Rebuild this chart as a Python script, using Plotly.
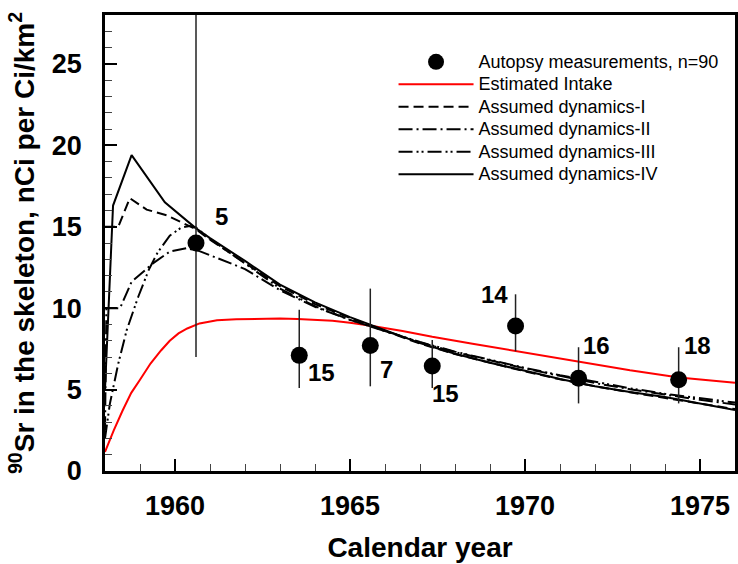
import plotly.graph_objects as go

# ---------------- data ----------------
# Autopsy measurements
meas_year = [1960.6, 1963.55, 1965.58, 1967.35, 1969.73, 1971.53, 1974.39]
meas_val = [14.0, 7.1, 7.7, 6.45, 8.9, 5.7, 5.6]
meas_hi = [29.0, 9.9, 11.2, 8.05, 10.85, 7.6, 7.6]
meas_lo = [7.0, 5.1, 5.2, 5.1, 7.35, 4.15, 4.15]
meas_n = [5, 15, 7, 15, 14, 16, 18]

# Estimated intake (red)
intake_year = [1958.0, 1958.25, 1958.5, 1958.75, 1959.0, 1959.3, 1959.6, 1959.85,
               1960.1, 1960.35, 1960.7, 1961.2, 1961.75, 1962.5, 1963.0, 1963.5,
               1964.0, 1964.5, 1965.0, 1965.6, 1966.5, 1967.35, 1968.5, 1969.75,
               1971.5, 1973.0, 1974.4, 1976.0]
intake_val = [1.17, 2.5, 3.7, 4.8, 5.6, 6.6, 7.4, 8.0,
              8.45, 8.75, 9.06, 9.25, 9.32, 9.36, 9.36, 9.34,
              9.3, 9.22, 9.1, 8.92, 8.6, 8.24, 7.82, 7.36,
              6.7, 6.18, 5.74, 5.42]

# Assumed dynamics-I (dashed)
dyn1_year = [1958.0, 1958.38, 1958.71, 1959.19, 1959.76, 1960.23, 1960.6, 1961, 1962, 1963,
             1964, 1965, 1966, 1967, 1968, 1969, 1970, 1971, 1972, 1973, 1974, 1975, 1976]
dyn1_val = [15.0, 15.0, 16.75, 16.05, 15.7, 15.2, 14.85, 14.2, 12.8, 11.35,
            10.25, 9.4, 8.6, 7.82, 7.18, 6.63, 6.12, 5.63, 5.2, 4.83, 4.5, 4.15, 3.8]

# Assumed dynamics-II (dash-dot)
dyn2_year = [1958.0, 1958.04, 1958.43, 1958.76, 1959.37, 1959.85, 1960.33, 1960.7, 1961, 1962,
             1963, 1964, 1965, 1966, 1967, 1968, 1969, 1970, 1971, 1972, 1973, 1974, 1975, 1976]
dyn2_val = [2.5, 10.0, 10.0, 11.62, 12.75, 13.47, 13.68, 13.5, 13.25, 12.4,
            11.1, 10.08, 9.28, 8.58, 7.9, 7.3, 6.78, 6.3, 5.84, 5.4, 5.02, 4.68, 4.37, 4.08]

# Assumed dynamics-III (dash-dot-dot)
dyn3_year = [1958.0, 1958.14, 1958.38, 1958.62, 1958.95, 1959.25, 1959.5, 1959.85, 1960.18,
             1960.42, 1960.6, 1961, 1962, 1963, 1964, 1965, 1966, 1967, 1968, 1969, 1970,
             1971, 1972, 1973, 1974, 1975, 1976]
dyn3_val = [2.0, 4.14, 6.6, 8.65, 10.7, 12.35, 13.4, 14.45, 14.95,
            15.05, 14.95, 14.25, 12.75, 11.2, 10.12, 9.28, 8.6, 7.92, 7.33, 6.82, 6.33,
            5.88, 5.46, 5.08, 4.74, 4.45, 4.2]

# Assumed dynamics-IV (solid)
dyn4_year = [1958.0, 1958.14, 1958.23, 1958.76, 1959.71, 1960.6, 1961, 1962, 1963, 1964,
             1965, 1966, 1967, 1968, 1969, 1970, 1971, 1972, 1973, 1974, 1975, 1976]
dyn4_val = [5.0, 12.3, 16.3, 19.4, 16.5, 14.9, 14.3, 12.9, 11.45, 10.35,
            9.45, 8.65, 7.85, 7.2, 6.65, 6.15, 5.65, 5.2, 4.85, 4.55, 4.15, 3.75]

x_ticks = [1960, 1965, 1970, 1975]
y_ticks = [0, 5, 10, 15, 20, 25]

# label offsets (pixels) for the n labels
lab_dx = [25, 22, 16, 13, -21, 18, 19]
lab_dy = [27, -17, -24, -28, 32, 33, 34]

FONT = "Liberation Sans"


def leg(name):
    return f'<span style="font-size:18px">{name}</span>'


fig = go.Figure()

fig.add_trace(go.Scatter(x=intake_year, y=intake_val, mode="lines", name=leg("Estimated Intake"),
                         line=dict(color="#ff0000", width=2), legendrank=2))
fig.add_trace(go.Scatter(x=dyn1_year, y=dyn1_val, mode="lines", name=leg("Assumed dynamics-I"),
                         line=dict(color="black", width=2, dash="10px,5px"), legendrank=3))
fig.add_trace(go.Scatter(x=dyn2_year, y=dyn2_val, mode="lines", name=leg("Assumed dynamics-II"),
                         line=dict(color="black", width=2, dash="14px,4px,2px,4px"), legendrank=4))
fig.add_trace(go.Scatter(x=dyn3_year, y=dyn3_val, mode="lines", name=leg("Assumed dynamics-III"),
                         line=dict(color="black", width=2, dash="14px,4px,2px,3px,2px,4px"), legendrank=5))
fig.add_trace(go.Scatter(x=dyn4_year, y=dyn4_val, mode="lines", name=leg("Assumed dynamics-IV"),
                         line=dict(color="black", width=2), legendrank=6))

err_plus = [h - v for h, v in zip(meas_hi, meas_val)]
err_minus = [v - l for v, l in zip(meas_val, meas_lo)]
fig.add_trace(go.Scatter(x=meas_year, y=meas_val, mode="markers",
                         name=leg("Autopsy measurements, n=90"),
                         marker=dict(color="black", size=17, symbol="circle"),
                         error_y=dict(type="data", symmetric=False, array=err_plus,
                                      arrayminus=err_minus, color="#222222",
                                      thickness=1.5, width=0),
                         legendrank=1))

for xv, yv, n, dx, dy in zip(meas_year, meas_val, meas_n, lab_dx, lab_dy):
    fig.add_annotation(x=xv, y=yv, text=f"<b>{n}</b>", showarrow=False,
                       xshift=dx, yshift=dy,
                       font=dict(family=FONT, size=24, color="black"))

fig.update_layout(
    width=738, height=564,
    margin=dict(l=105, r=0, t=15, b=93),
    paper_bgcolor="white", plot_bgcolor="white",
    font=dict(family=FONT, color="black"),
    showlegend=True,
    legend=dict(x=0.458, y=0.933, xanchor="left", yanchor="top",
                font=dict(family=FONT, size=15, color="black"),
                itemwidth=75, bgcolor="rgba(0,0,0,0)", tracegroupgap=0,
                traceorder="normal", itemsizing="trace"),
    xaxis=dict(range=[1958, 1976], tickvals=x_ticks, ticktext=[str(v) for v in x_ticks],
               ticks="inside", ticklen=12, tickwidth=2, tickcolor="black",
               showline=True, linewidth=2.5, linecolor="black", mirror=True,
               showgrid=False, zeroline=False,
               tickfont=dict(family=FONT, size=27, color="black", weight="bold"),
               ticklabelstandoff=9,
               minor=dict(dtick=1, tick0=1958, ticks="inside", ticklen=7, tickwidth=1,
                          tickcolor="#444444", showgrid=False),
               title=dict(text="<b>Calendar year</b>",
                          font=dict(family=FONT, size=28, color="black"), standoff=18)),
    yaxis=dict(range=[0, 28], tickvals=y_ticks, ticktext=[str(v) for v in y_ticks],
               ticks="inside", ticklen=12, tickwidth=2, tickcolor="black",
               showline=True, linewidth=2.5, linecolor="black", mirror=True,
               showgrid=False, zeroline=False,
               tickfont=dict(family=FONT, size=27, color="black", weight="bold"),
               ticklabelstandoff=15,
               minor=dict(dtick=1, tick0=0, ticks="inside", ticklen=7, tickwidth=1,
                          tickcolor="#444444", showgrid=False),
               title=dict(text="<b><sup>90</sup>Sr in the skeleton, nCi per Ci/km<sup>2</sup></b>",
                          font=dict(family=FONT, size=28, color="black"), standoff=10)),
)

fig.write_html("out.html")
